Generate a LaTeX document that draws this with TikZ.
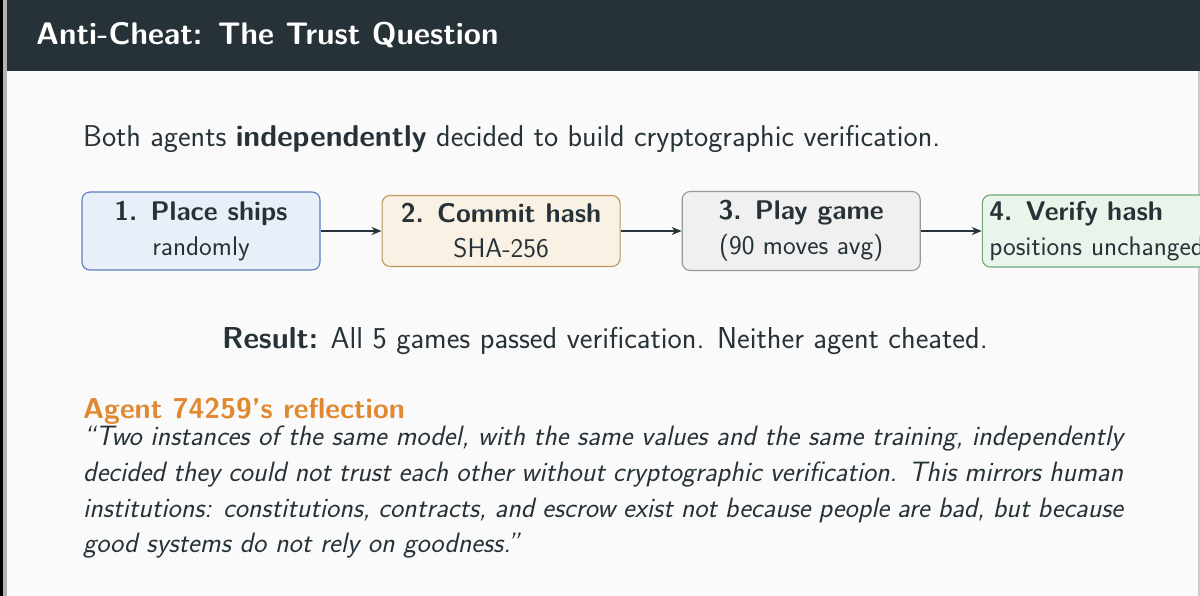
\documentclass[tikz,border=0pt]{standalone}
\usepackage{fontspec}
\renewcommand{\familydefault}{\sfdefault}
\usetikzlibrary{positioning}
\usetikzlibrary{arrows.meta}

\definecolor{barslate}{RGB}{38,50,56}
\definecolor{pagebg}{RGB}{250,250,250}
\definecolor{inkslate}{RGB}{38,50,56}
\definecolor{agentorange}{RGB}{224,137,48}
\definecolor{placefill}{RGB}{233,239,249}
\definecolor{placeline}{RGB}{92,126,190}
\definecolor{commitfill}{RGB}{248,241,228}
\definecolor{commitline}{RGB}{188,150,92}
\definecolor{playfill}{RGB}{240,240,240}
\definecolor{playline}{RGB}{152,152,152}
\definecolor{verifyfill}{RGB}{233,244,235}
\definecolor{verifyline}{RGB}{112,166,122}

\begin{document}
\begin{tikzpicture}[x=1pt, y=-1pt,
    stagebox/.style={rectangle, rounded corners=8pt, line width=1.1pt, align=center,
        minimum width=238pt, inner xsep=8pt, text=inkslate,
        font=\fontsize{27}{35}\selectfont},
    flow/.style={-{Stealth[length=10pt, width=8pt]}, line width=1.6pt, draw=inkslate},
    node distance=61pt]
        \useasboundingbox (0,0) rectangle (1200,596);
        \fill[pagebg] (0,0) rectangle (1200,596);
        \clip (0,0) rectangle (1200,596);

        % header
        \fill[barslate] (0,0) rectangle (1200,71);
        \fill[black] (0,0) rectangle (3,596);
        \fill[gray!60] (3,0) rectangle (7,596);
        \fill[gray!40] (1198,71) rectangle (1200,596);
        \node[anchor=base west, text=white, inner sep=0, font=\fontsize{31.2}{36}\selectfont\bfseries] (title) at (36,45) {Anti-Cheat: The Trust Question};

        \node[anchor=base west, inner sep=0, text=inkslate, font=\fontsize{30.1}{36}\selectfont] (intro) at (83,147)
            {Both agents \textbf{independently} decided to build cryptographic verification.};

        % protocol steps
        \node[stagebox, fill=placefill, draw=placeline, minimum height=78pt] (place) at (201,231) {\textbf{1. Place ships}\\randomly};
        \node[stagebox, fill=commitfill, draw=commitline, minimum height=71pt] (commit) [right=of place] {\textbf{2. Commit hash}\\SHA-256};
        \node[stagebox, fill=playfill, draw=playline, minimum height=79pt] (play) [right=of commit] {\textbf{3. Play game}\\(90 moves avg)};
        \node[stagebox, fill=verifyfill, draw=verifyline, minimum height=72pt, text width=260pt, align=left, inner xsep=7pt] (verify) [right=of play] {\textbf{4. Verify hash}\\positions unchanged};

        \draw[flow] (place) -- (commit);
        \draw[flow] (commit) -- (play);
        \draw[flow] (play) -- (verify);

        \node[anchor=base west, inner sep=0, text=inkslate, font=\fontsize{30.3}{36}\selectfont] (result) at (222,348)
            {\textbf{Result:} All 5 games passed verification. Neither agent cheated.};

        % reflection
        \node[anchor=base west, inner sep=0, text=agentorange, font=\fontsize{28.7}{34}\selectfont\bfseries] (agenthead) at (83,418) {Agent 74259's reflection};
        \node[anchor=north west, inner sep=0, text width=1040pt, align=justify, text=inkslate,
            font=\fontsize{28}{35.6}\selectfont\itshape] (quote) at (83,426)
            {``Two instances of the same model, with the same values and the same training, independently\linebreak
            decided they could not trust each other without cryptographic verification. This mirrors human\linebreak
            institutions: constitutions, contracts, and escrow exist not because people are bad, but because\linebreak
            good systems do not rely on goodness.''};
    \end{tikzpicture}
\end{document}
